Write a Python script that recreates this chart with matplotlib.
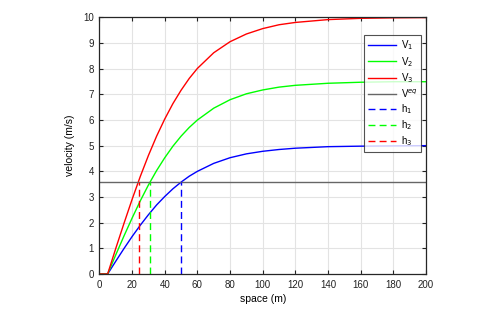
import matplotlib
matplotlib.use("Agg")
import matplotlib.pyplot as plt

plt.rcParams['font.family'] = ['Liberation Sans', 'DejaVu Sans']

# data
space = [0, 5, 10, 15, 20, 25, 30, 35, 40, 45, 50, 55, 60, 70, 80, 90, 100,
         110, 120, 140, 160, 180, 200]
v1 = [0, 0, 0.50, 0.99, 1.46, 1.90, 2.31, 2.69, 3.02, 3.32, 3.58, 3.81, 4.00,
      4.31, 4.53, 4.68, 4.78, 4.85, 4.90, 4.96, 4.98, 4.99, 5.00]
v2 = [0, 0, 0.75, 1.48, 2.18, 2.85, 3.47, 4.03, 4.53, 4.98, 5.37, 5.71, 6.00,
      6.46, 6.79, 7.02, 7.17, 7.28, 7.35, 7.43, 7.47, 7.49, 7.49]
v3 = [0, 0, 1.00, 1.97, 2.91, 3.80, 4.62, 5.37, 6.04, 6.64, 7.16, 7.62, 8.01,
      8.62, 9.05, 9.35, 9.56, 9.71, 9.80, 9.91, 9.96, 9.98, 9.99]
v_eq = 3.58
h_pos = [50, 31, 24]
x_ticks = [0, 20, 40, 60, 80, 100, 120, 140, 160, 180, 200]
y_ticks = list(range(0, 11))

fig = plt.figure(figsize=(4.91, 3.18), dpi=100)
ax = fig.add_axes([0.2026, 0.1384, 0.665, 0.8072])

c_blue, c_green, c_red = '#0000ff', '#00ff00', '#ff0000'
ax.plot(space, v1, color=c_blue, lw=1.0, label='V$_1$')
ax.plot(space, v2, color=c_green, lw=1.0, label='V$_2$')
ax.plot(space, v3, color=c_red, lw=1.0, label='V$_3$')
ax.axhline(v_eq, color='0.4', lw=1.0, label='V$^{eq}$')
for h, c, lab in zip(h_pos, [c_blue, c_green, c_red], ['h$_1$', 'h$_2$', 'h$_3$']):
    ax.plot([h, h], [0, v_eq], color=c, lw=1.0, ls=(0, (5, 3)), label=lab)

ax.set_xlim(0, 200)
ax.set_ylim(0, 10)
ax.set_xticks(x_ticks)
ax.set_yticks(y_ticks)
ax.grid(True, color='#e3e3e3', lw=0.8)
ax.set_axisbelow(True)
ax.tick_params(direction='in', length=3, width=0.8, top=True, right=True,
               labelsize=7, colors='#222222', pad=4)
for s in ax.spines.values():
    s.set_color('#262626')
    s.set_linewidth(0.9)
ax.set_xlabel('space (m)', fontsize=7.5, labelpad=3)
ax.set_ylabel('velocity (m/s)', fontsize=7.5, labelpad=6)

leg = ax.legend(loc='upper right', bbox_to_anchor=(0.985, 0.93), fontsize=7,
                frameon=True, fancybox=False, handlelength=2.9,
                handletextpad=0.5, labelspacing=0.25, borderpad=0.35,
                borderaxespad=0)
leg.get_frame().set_edgecolor('#262626')
leg.get_frame().set_linewidth(0.8)

fig.savefig('out.png', dpi=100)
